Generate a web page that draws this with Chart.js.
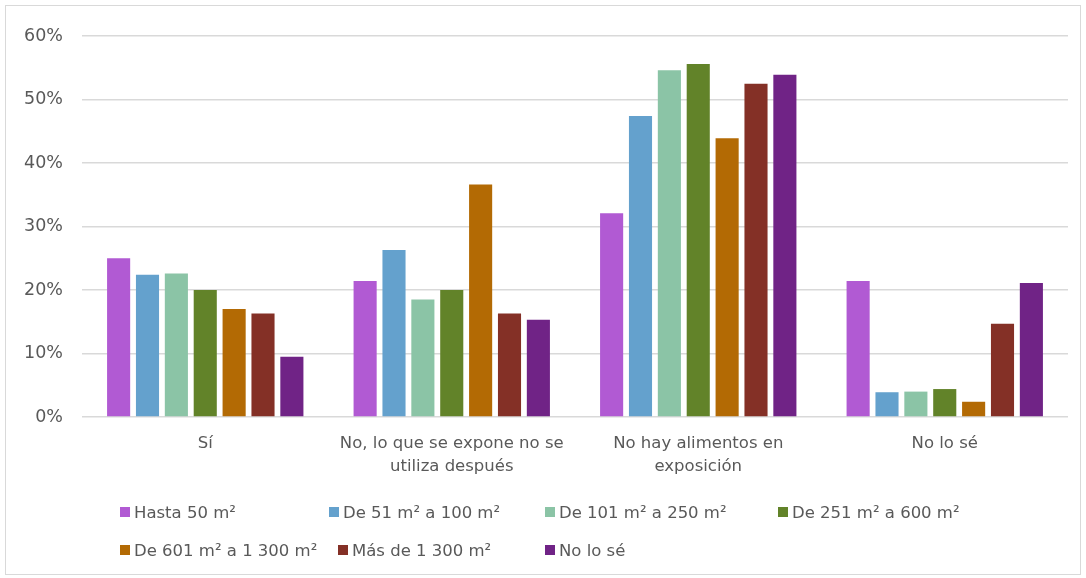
<!DOCTYPE html>
<html>
<head>
<meta charset="utf-8">
<script src="https://cdn.jsdelivr.net/npm/chart.js@4.4.0/dist/chart.umd.min.js"></script>
<style>
  body { margin:0; background:#fff; font-family:"DejaVu Sans", sans-serif; }
  #wrap { position:relative; width:1086px; height:578px; }
  #frame { position:absolute; left:5px; top:5px; width:1076px; height:570px; border:1px solid #d9d9d9; box-sizing:border-box; }
  canvas { position:absolute; left:0; top:0; }
  .leg { position:absolute; font-size:16.5px; color:#595959; white-space:nowrap; line-height:20px; }
  .leg i { display:inline-block; width:10px; height:10px; margin-right:4px; vertical-align:1px; }
</style>
</head>
<body>
<div id="wrap">
  <div id="frame"></div>
  <canvas id="c" width="1086" height="578"></canvas>
  <div id="legend"></div>
</div>
<script>
const categories = [
  ['Sí'],
  ['No, lo que se expone no se', 'utiliza después'],
  ['No hay alimentos en', 'exposición'],
  ['No lo sé']
];
const seriesNames = ['Hasta 50 m²', 'De 51 m² a 100 m²', 'De 101 m² a 250 m²', 'De 251 m² a 600 m²',
  'De 601 m² a 1 300 m²', 'Más de 1 300 m²', 'No lo sé'];
const colors = ['#b15ad3', '#64a1cd', '#8bc4a6', '#628329', '#b36a04', '#843026', '#702386'];
const hasta50   = [25.0, 21.4, 32.1, 21.4];
const de51      = [22.4, 26.3, 47.4, 3.9];
const de101     = [22.6, 18.5, 54.6, 4.0];
const de251     = [20.0, 20.0, 55.6, 4.4];
const de601     = [17.0, 36.6, 43.9, 2.4];
const mas1300   = [16.3, 16.3, 52.5, 14.7];
const noLoSe    = [9.5, 15.3, 53.9, 21.1];
const seriesValues = [hasta50, de51, de101, de251, de601, mas1300, noLoSe];
const yTicks = [0, 10, 20, 30, 40, 50, 60];

// legend layout (two rows, like the original)
const legendSlots = [[120,503],[329,503],[545,503],[778,503],[120,541],[338,541],[545,541]];
const legend = document.getElementById('legend');
seriesNames.forEach((n, i) => {
  const d = document.createElement('div');
  d.className = 'leg';
  d.style.left = legendSlots[i][0] + 'px';
  d.style.top = legendSlots[i][1] + 'px';
  d.innerHTML = `<i style="background:${colors[i]}"></i>${n}`;
  legend.appendChild(d);
});

new Chart(document.getElementById('c'), {
  type: 'bar',
  data: {
    labels: categories,
    datasets: seriesNames.map((n, i) => ({
      label: n, data: seriesValues[i], backgroundColor: colors[i],
      categoryPercentage: 0.82, barPercentage: 0.8
    }))
  },
  options: {
    responsive: false, animation: false,
    layout: { padding: { top: 36, right: 18, left: 0, bottom: 0 } },
    plugins: { legend: { display: false }, tooltip: { enabled: false } },
    scales: {
      x: {
        grid: { display: false },
        border: { display: false },
        ticks: { color: '#595959', font: { family: 'DejaVu Sans', size: 16.5, lineHeight: 1.4 }, padding: 7, maxRotation: 0, autoSkip: false },
        afterFit: s => { s.height = 161; }
      },
      y: {
        min: 0, max: 60,
        afterBuildTicks: s => { s.ticks = yTicks.map(v => ({ value: v })); },
        grid: { color: '#d9d9d9', lineWidth: 1.5, drawTicks: false },
        border: { display: false },
        ticks: { color: '#595959', font: { family: 'DejaVu Sans', size: 17.5 }, padding: 19, callback: v => v + '%' },
        afterFit: s => { s.width = 82; }
      }
    }
  }
});
</script>
</body>
</html>
